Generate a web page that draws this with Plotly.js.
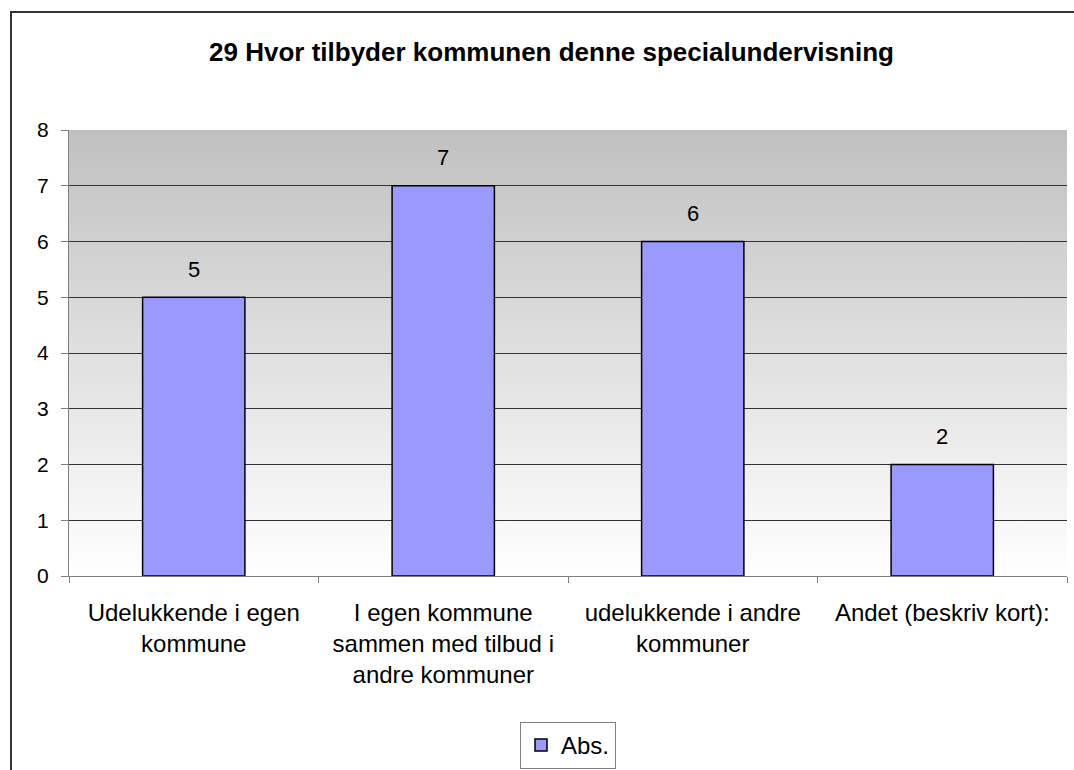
<!DOCTYPE html>
<html>
<head>
<meta charset="utf-8">
<script src="https://cdn.plot.ly/plotly-3.0.1.min.js"></script>
<style>
html,body{margin:0;padding:0;background:#fff;}
#chart{width:1074px;height:770px;}
</style>
</head>
<body>
<div id="chart"></div>
<script>
var titleText = "29 Hvor tilbyder kommunen denne specialundervisning";
var categories = [
  "Udelukkende i egen<br>kommune",
  "I egen kommune<br>sammen med tilbud i<br>andre kommuner",
  "udelukkende i andre<br>kommuner",
  "Andet (beskriv kort):"
];
var values = [5, 7, 6, 2];
var seriesName = "Abs.";
var yTicks = [0, 1, 2, 3, 4, 5, 6, 7, 8];

var FONT = "Liberation Sans, Arial, sans-serif";

var gradSvg = '<svg xmlns="http://www.w3.org/2000/svg" width="100" height="100" preserveAspectRatio="none">' +
  '<defs><linearGradient id="g" x1="0" y1="0" x2="0" y2="1">' +
  '<stop offset="0" stop-color="#c0c0c0"/><stop offset="1" stop-color="#ffffff"/></linearGradient></defs>' +
  '<rect width="100" height="100" fill="url(#g)"/></svg>';
var gradUri = "data:image/svg+xml;base64," + btoa(gradSvg);

var trace = {
  type: "bar",
  x: categories,
  y: values,
  name: seriesName,
  width: 0.41,
  marker: {color: "#9999ff", line: {color: "#000000", width: 1.5}},
  hoverinfo: "x+y",
  showlegend: true
};

var annotations = values.map(function (v, i) {
  return {
    x: categories[i], y: v, xref: "x", yref: "y",
    text: String(v), showarrow: false,
    yanchor: "middle", yshift: 28,
    font: {family: FONT, size: 22, color: "#000"}
  };
});

var layout = {
  width: 1074, height: 770,
  paper_bgcolor: "#ffffff",
  plot_bgcolor: "rgba(0,0,0,0)",
  margin: {l: 69, r: 7, t: 130, b: 194, autoexpand: false},
  font: {family: FONT, color: "#000"},
  title: {
    text: "<b>" + titleText + "</b>",
    font: {family: FONT, size: 26, color: "#000"},
    xref: "container", x: 0.5135, xanchor: "center",
    yref: "container", y: 1 - 52 / 770, yanchor: "middle",
    automargin: false
  },
  xaxis: {
    type: "category",
    tickson: "boundaries",
    ticks: "outside", ticklen: 6, tickcolor: "#808080", tickwidth: 1,
    showline: true, linecolor: "#808080", linewidth: 1,
    showgrid: false, zeroline: false,
    tickfont: {family: FONT, size: 24, color: "#000"},
    ticklabelstandoff: 15,
    automargin: false,
    fixedrange: true
  },
  yaxis: {
    range: [0, 8],
    tickvals: yTicks,
    ticktext: yTicks.map(String),
    ticks: "outside", ticklen: 7, tickcolor: "#808080", tickwidth: 1,
    showline: true, linecolor: "#808080", linewidth: 1,
    showgrid: true, gridcolor: "#333333", gridwidth: 1,
    zeroline: false,
    tickfont: {family: FONT, size: 21, color: "#000"},
    ticklabelstandoff: 8,
    automargin: false,
    fixedrange: true
  },
  bargap: 0.59,
  showlegend: true,
  legend: {
    orientation: "h",
    xref: "paper", x: 0.5, xanchor: "center",
    yref: "container", y: 1 - 722 / 770, yanchor: "top",
    bordercolor: "#808080", borderwidth: 1, bgcolor: "#ffffff",
    font: {family: FONT, size: 24, color: "#000"}
  },
  images: [{
    source: gradUri, xref: "paper", yref: "paper",
    x: 0, y: 1, sizex: 1, sizey: 1, xanchor: "left", yanchor: "top",
    sizing: "stretch", layer: "below"
  }],
  shapes: [{
    type: "rect", xref: "paper", yref: "paper",
    x0: (11 - 69) / 998, x1: 1.2,
    y0: -0.6, y1: 1 + (130 - 12) / 446,
    line: {color: "#333333", width: 2}, fillcolor: "rgba(0,0,0,0)",
    layer: "above"
  }],
  annotations: annotations
};

Plotly.newPlot("chart", [trace], layout, {displayModeBar: false, staticPlot: true});
</script>
</body>
</html>
